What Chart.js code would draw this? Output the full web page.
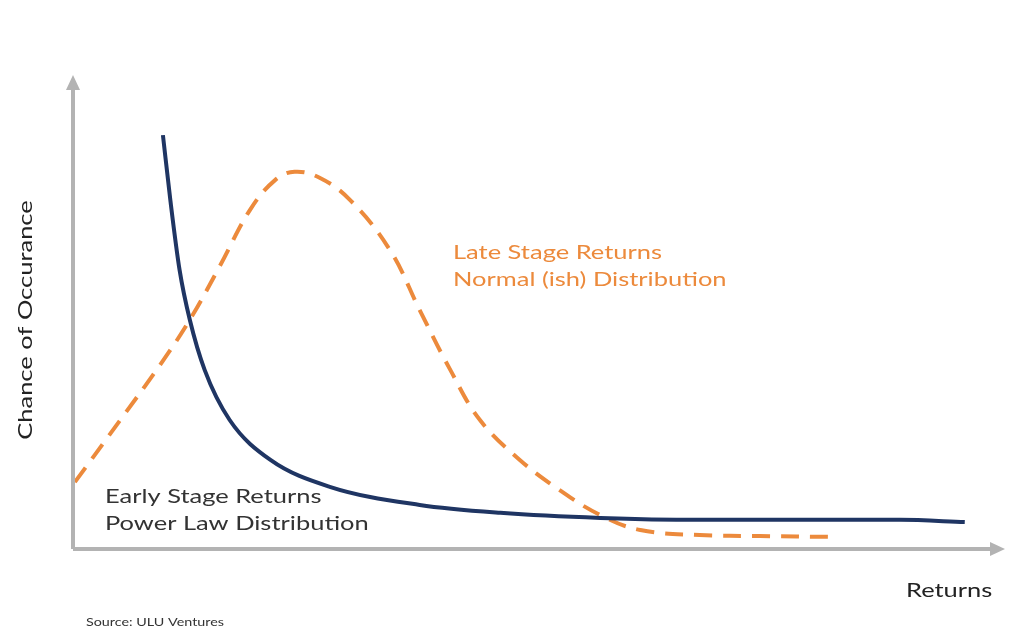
<!DOCTYPE html><html><head><meta charset="utf-8">
<script src="https://cdn.jsdelivr.net/npm/chart.js@4"></script>
<style>html,body{margin:0;background:#fff}#w{width:1024px;height:639px}</style></head><body>
<div id="w"><canvas id="c"></canvas></div>
<script>
const powerX=[9.7,10.5,11.5,12.6,14.2,16.9,21.3,27.7,37.4,46.1,56.9,67.6,78.4,89.2,96.2];
const powerY=[89.2,75.2,60.1,49.4,38.6,27.8,19.2,13.4,9.5,7.8,6.7,6.3,6.3,6.3,5.8];
const normalX=[0.2,5.1,9.4,12.6,15.9,19.1,21.8,23.9,26.6,29.9,34.2,37.4,40.7,43.9,48.2,52.5,56.9,61.2,67.6,74.1,82.0];
const normalY=[14.4,27.8,39.7,49.4,61.2,73.1,79.5,81.3,80.0,75.2,64.4,51.5,38.6,27.8,19.2,12.7,7.3,4.1,3.0,2.8,2.6];
const xTitle="Returns", yTitle="Chance of Occurance", source="Source: ULU Ventures";
const pts=(xs,ys)=>xs.map((x,i)=>({x,y:ys[i]}));
function txt(c,s,x,y,sx){c.save();c.translate(x,y);c.scale(sx,1);c.fillText(s,0,0);c.restore();}
const deco={id:'deco',afterDraw(ch){const c=ch.ctx,a=ch.chartArea;c.save();
c.strokeStyle='#b3b3b3';c.fillStyle='#b3b3b3';c.lineWidth=4;
c.beginPath();c.moveTo(a.left,a.bottom);c.lineTo(a.right-8,a.bottom);c.moveTo(a.left,a.bottom);c.lineTo(a.left,a.top);c.stroke();
c.beginPath();c.moveTo(a.right+5,a.bottom);c.lineTo(a.right-10,a.bottom-7);c.lineTo(a.right-10,a.bottom+7);c.fill();
c.beginPath();c.moveTo(a.left,a.top-10);c.lineTo(a.left-7,a.top+5);c.lineTo(a.left+7,a.top+5);c.fill();
c.font='20px Lato';c.textBaseline='middle';
const sx=209/c.measureText('Late Stage Returns').width;
c.fillStyle='#333';txt(c,'Early Stage Returns',105,497,sx);txt(c,'Power Law Distribution',105,524,sx);
c.fillStyle='#ec8a3c';txt(c,'Late Stage Returns',453,253,sx);txt(c,'Normal (ish) Distribution',453,280,sx);
c.fillStyle='#222';txt(c,xTitle,906,591,sx);
c.font='12px Lato';c.fillStyle='#333';txt(c,source,86,622,138/c.measureText(source).width);
c.font='20px Lato';c.fillStyle='#222';c.translate(26,320);c.rotate(-Math.PI/2);c.scale(sx,1);c.textAlign='center';c.fillText(yTitle,0,0);
c.restore();}};
new Chart(document.getElementById('c'),{type:'scatter',data:{datasets:[
{data:pts(powerX,powerY),showLine:true,borderColor:'#1f3563',borderWidth:4,pointRadius:0,tension:0.4,cubicInterpolationMode:'monotone'},
{data:pts(normalX,normalY),showLine:true,borderColor:'#ec8a3c',borderWidth:4,borderDash:[18,11],pointRadius:0,tension:0.4}]},
options:{responsive:true,maintainAspectRatio:false,animation:false,layout:{padding:{left:73,right:24,top:85,bottom:90}},
plugins:{legend:{display:false},tooltip:{enabled:false}},
scales:{x:{display:false,min:0,max:100},y:{display:false,min:0,max:100}}},plugins:[deco]});
</script></body></html>
